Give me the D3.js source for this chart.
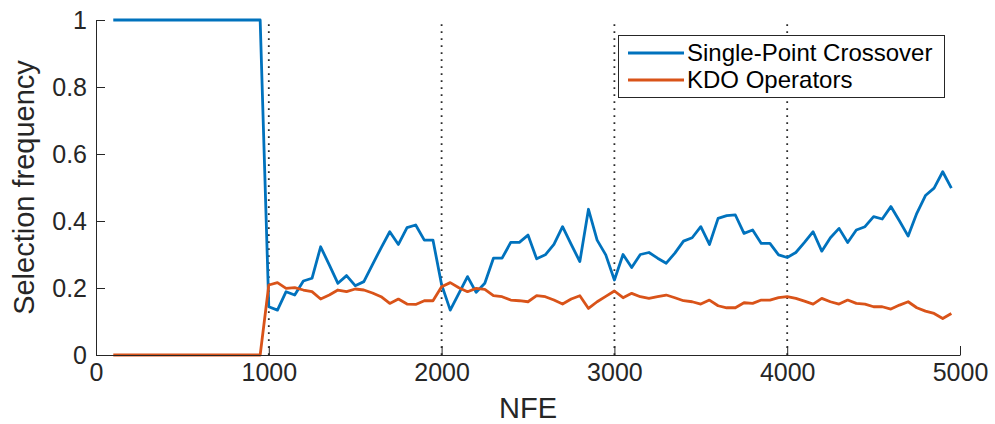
<!DOCTYPE html>
<html>
<head>
<meta charset="utf-8">
<script src="https://cdn.jsdelivr.net/npm/d3@7"></script>
<style>
  html, body { margin: 0; padding: 0; background: #ffffff; }
  svg { display: block; font-family: "Liberation Sans", Arial, Helvetica, sans-serif; }
</style>
</head>
<body>
<svg id="chart" width="995" height="424"></svg>
<script>
// Number of function evaluations at which the operator selection was sampled
const nfe = [100, 950,
  1000, 1050, 1100, 1150, 1200, 1250, 1300, 1350, 1400, 1450,
  1500, 1550, 1600, 1650, 1700, 1750, 1800, 1850, 1900, 1950,
  2000, 2050, 2100, 2150, 2200, 2250, 2300, 2350, 2400, 2450,
  2500, 2550, 2600, 2650, 2700, 2750, 2800, 2850, 2900, 2950,
  3000, 3050, 3100, 3150, 3200, 3250, 3300, 3350, 3400, 3450,
  3500, 3550, 3600, 3650, 3700, 3750, 3800, 3850, 3900, 3950,
  4000, 4050, 4100, 4150, 4200, 4250, 4300, 4350, 4400, 4450,
  4500, 4550, 4600, 4650, 4700, 4750, 4800, 4850, 4900, 4950];

// Selection frequency of the single-point crossover operator
const singlePoint = [1, 1,
  0.144, 0.134, 0.189, 0.179, 0.221, 0.229, 0.323, 0.269, 0.214, 0.237,
  0.207, 0.219, 0.270, 0.320, 0.368, 0.330, 0.380, 0.388, 0.343, 0.343,
  0.210, 0.134, 0.184, 0.234, 0.187, 0.214, 0.289, 0.289, 0.336, 0.336,
  0.358, 0.287, 0.299, 0.330, 0.383, 0.330, 0.279, 0.435, 0.343, 0.299,
  0.224, 0.300, 0.261, 0.300, 0.306, 0.289, 0.274, 0.304, 0.340, 0.350,
  0.383, 0.330, 0.408, 0.416, 0.418, 0.363, 0.373, 0.333, 0.333, 0.299,
  0.291, 0.306, 0.336, 0.368, 0.310, 0.350, 0.378, 0.336, 0.373, 0.383,
  0.413, 0.406, 0.443, 0.400, 0.355, 0.423, 0.476, 0.498, 0.547, 0.498];

// Selection frequency of the KDO operators
const kdoOperators = [0, 0,
  0.209, 0.216, 0.199, 0.201, 0.194, 0.189, 0.167, 0.179, 0.194, 0.189,
  0.197, 0.194, 0.185, 0.174, 0.154, 0.167, 0.152, 0.151, 0.162, 0.162,
  0.204, 0.216, 0.201, 0.189, 0.199, 0.196, 0.177, 0.174, 0.164, 0.162,
  0.159, 0.177, 0.174, 0.164, 0.152, 0.167, 0.177, 0.139, 0.159, 0.175,
  0.191, 0.171, 0.184, 0.174, 0.169, 0.174, 0.179, 0.171, 0.162, 0.159,
  0.152, 0.164, 0.147, 0.141, 0.141, 0.156, 0.154, 0.164, 0.164, 0.171,
  0.174, 0.169, 0.161, 0.152, 0.169, 0.159, 0.152, 0.164, 0.154, 0.152,
  0.144, 0.144, 0.137, 0.149, 0.159, 0.141, 0.131, 0.124, 0.109, 0.124];

const xTicks = [0, 1000, 2000, 3000, 4000, 5000];
const yTicks = [0, 0.2, 0.4, 0.6, 0.8, 1];
const gridMarks = [1000, 2000, 3000, 4000];
const seriesNames = ["Single-Point Crossover", "KDO Operators"];
const seriesColors = ["#0072BD", "#D95319"];

const axisColor = "#262626";
const margin = { left: 96, right: 35, top: 20, bottom: 69 };
const width = 995, height = 424;

const svg = d3.select("#chart");
svg.append("rect").attr("width", width).attr("height", height).attr("fill", "#ffffff");

const x = d3.scaleLinear().domain([0, 5000]).range([margin.left, width - margin.right]);
const y = d3.scaleLinear().domain([0, 1]).range([height - margin.bottom, margin.top]);

// dotted vertical reference lines
svg.append("g")
  .selectAll("line")
  .data(gridMarks)
  .join("line")
  .attr("x1", d => x(d)).attr("x2", d => x(d))
  .attr("y1", y(0)).attr("y2", y(1))
  .attr("stroke", "#2a2a2a")
  .attr("stroke-width", 1.8)
  .attr("stroke-dasharray", "1.8,5.2");

// series lines
const series = [singlePoint, kdoOperators];
const line = d3.line()
  .x(d => x(d[0]))
  .y(d => y(d[1]));

svg.append("g")
  .selectAll("path")
  .data(series)
  .join("path")
  .attr("d", vals => line(vals.map((v, i) => [nfe[i], v])))
  .attr("fill", "none")
  .attr("stroke", (d, i) => seriesColors[i])
  .attr("stroke-width", 2.8)
  .attr("stroke-linejoin", "round");

// axes (ticks pointing inward)
const xAxis = d3.axisBottom(x)
  .tickValues(xTicks)
  .tickFormat(d3.format("d"))
  .tickSizeInner(-9)
  .tickSizeOuter(0)
  .tickPadding(8);

const yAxis = d3.axisLeft(y)
  .tickValues(yTicks)
  .tickFormat(d => d === 0 || d === 1 ? String(d) : d3.format(".1f")(d))
  .tickSizeInner(-9)
  .tickSizeOuter(0)
  .tickPadding(9);

const gx = svg.append("g")
  .attr("transform", `translate(0,${y(0)})`)
  .call(xAxis);
const gy = svg.append("g")
  .attr("transform", `translate(${x(0)},0)`)
  .call(yAxis);

[gx, gy].forEach(g => {
  g.select(".domain").attr("stroke", axisColor).attr("stroke-width", 1);
  g.selectAll(".tick line").attr("stroke", axisColor).attr("stroke-width", 1);
  g.selectAll(".tick text")
    .attr("fill", axisColor)
    .attr("font-size", 25)
    .attr("font-family", "'Liberation Sans', Arial, sans-serif");
});

// axis titles
svg.append("text")
  .attr("x", (x(0) + x(5000)) / 2)
  .attr("y", 418)
  .attr("text-anchor", "middle")
  .attr("fill", axisColor)
  .attr("font-size", 29)
  .text("NFE");

svg.append("text")
  .attr("transform", `translate(34,${(y(0) + y(1)) / 2}) rotate(-90)`)
  .attr("text-anchor", "middle")
  .attr("fill", axisColor)
  .attr("font-size", 29)
  .text("Selection frequency");

// legend
const legend = svg.append("g");
legend.append("rect")
  .attr("x", 618.5).attr("y", 35.5)
  .attr("width", 326).attr("height", 62)
  .attr("fill", "#ffffff")
  .attr("stroke", axisColor)
  .attr("stroke-width", 1);

const legendRows = legend.selectAll("g.row")
  .data(seriesNames)
  .join("g")
  .attr("class", "row")
  .attr("transform", (d, i) => `translate(0,${53 + i * 27})`);

legendRows.append("line")
  .attr("x1", 628).attr("x2", 684)
  .attr("y1", 0).attr("y2", 0)
  .attr("stroke", (d, i) => seriesColors[i])
  .attr("stroke-width", 2.8);

legendRows.append("text")
  .attr("x", 687)
  .attr("y", 0)
  .attr("dy", "0.35em")
  .attr("fill", "#000000")
  .attr("font-size", 24)
  .text(d => d);
</script>
</body>
</html>
